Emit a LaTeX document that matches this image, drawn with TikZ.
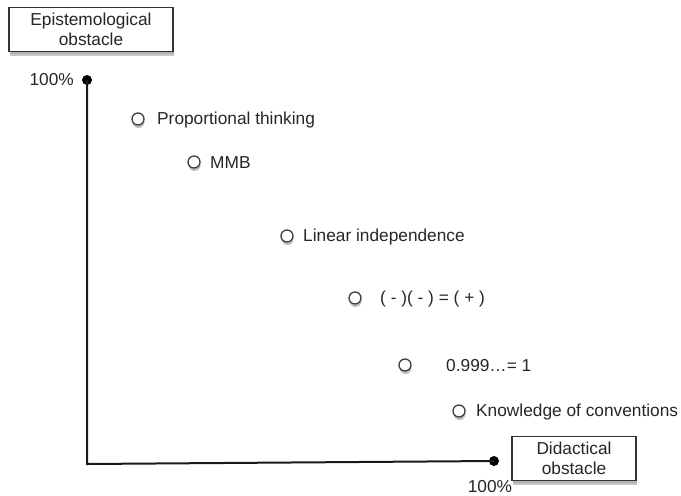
\documentclass[tikz,border=0pt]{standalone}
\usepackage{fontspec}
\setmainfont{Liberation Sans}
\usetikzlibrary{shadows}
\begin{document}
\begin{tikzpicture}[x=1pt,y=-1pt,
  lbl/.style={font=\fontsize{17.3}{19.5}\selectfont, text=black!85, inner sep=0pt},
  obox/.style={draw=black!80, line width=1.5pt, fill=white, align=center, font=\fontsize{17.3}{19.5}\selectfont, text=black!85, inner sep=0pt, minimum height=44pt,
     drop shadow={shadow xshift=1pt, shadow yshift=-4pt, opacity=0.45},
     drop shadow={shadow xshift=1pt, shadow yshift=-2pt, opacity=0.3}},
  pt/.style={circle, draw=black!75, line width=1.3pt, fill=white, minimum size=12pt, inner sep=0pt,
     drop shadow={shadow xshift=0.5pt, shadow yshift=-3pt, opacity=0.5}},
  dot/.style={circle, fill=black, minimum size=10pt, inner sep=0pt},
  axis/.style={line width=2pt, black!90}]
\useasboundingbox (0,0) rectangle (681,496);
\node[obox, minimum width=164pt] (eo) at (91,29.5) {Epistemological\\obstacle};
\node[obox, minimum width=124pt] (do) at (574,458.5) {Didactical\\obstacle};
\node[dot] (ytop) at (87,80) {};
\node[dot] (xend) at (494,461) {};
\coordinate (orig) at (87,464);
\draw[axis] (ytop.center) -- (orig) -- (xend.center);
\node[lbl, anchor=east] (yl) at (74,80) {100\%};
\node[lbl] (xl) at (490,487) {100\%};

\node[pt] (p1) at (138,119) {};
\node[lbl, anchor=west] (t1) at (157,120) {Proportional thinking};
\node[pt] (p2) at (194,162) {};
\node[lbl, anchor=west] (t2) at (210,163) {MMB};
\node[pt] (p3) at (287,236) {};
\node[lbl, anchor=west] (t3) at (303,237) {Linear independence};
\node[pt] (p4) at (355,298) {};
\node[lbl, anchor=west] (t4) at (380,299) {( - )( - ) = ( + )};
\node[pt] (p5) at (405,365) {};
\node[lbl, anchor=west] (t5) at (446,366) {0.999…= 1};
\node[pt] (p6) at (459,411) {};
\node[lbl, anchor=west] (t6) at (476,412) {Knowledge of conventions};
\end{tikzpicture}
\end{document}
